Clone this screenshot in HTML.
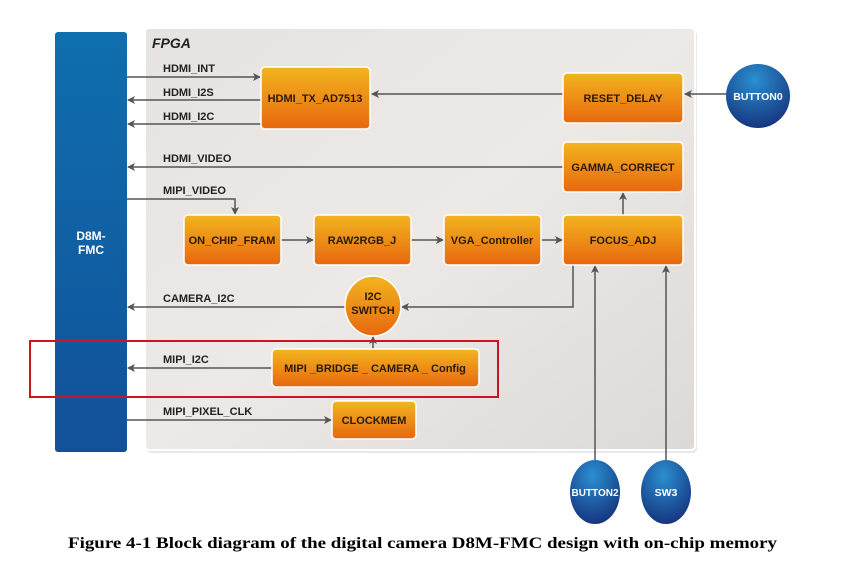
<!DOCTYPE html>
<html><head><style>body{margin:0;background:#fff}svg{display:block}</style></head><body>
<svg width="862" height="572" viewBox="0 0 862 572" xmlns="http://www.w3.org/2000/svg" font-family="Liberation Sans, sans-serif">
<defs>
<linearGradient id="bl" x1="0" y1="0" x2="0" y2="1"><stop offset="0" stop-color="#0f6fae"/><stop offset="1" stop-color="#11519a"/></linearGradient>
<linearGradient id="or" x1="0" y1="0" x2="0" y2="1"><stop offset="0" stop-color="#f2b51f"/><stop offset="1" stop-color="#e8670f"/></linearGradient>
<linearGradient id="pn" x1="0" y1="0" x2="1" y2="1"><stop offset="0" stop-color="#e6e3e0"/><stop offset="0.5" stop-color="#ece9e7"/><stop offset="1" stop-color="#dcd9d6"/></linearGradient>
<radialGradient id="bc" cx="0.45" cy="0.25" r="0.8"><stop offset="0" stop-color="#2a8fd0"/><stop offset="1" stop-color="#15307a"/></radialGradient>
<marker id="a" markerWidth="8" markerHeight="8" refX="7" refY="4" orient="auto" markerUnits="userSpaceOnUse"><path d="M0,0 L8,4 L0,8 L2,4z" fill="#555"/></marker>
</defs>
<rect x="147" y="31" width="550" height="422" rx="4" fill="#d8d8d8" opacity="0.6"/>
<rect x="145" y="28" width="550" height="422" rx="4" fill="url(#pn)" stroke="#fff" stroke-width="2"/>
<text x="152" y="48" font-size="14" font-weight="bold" font-style="italic" fill="#222">FPGA</text>
<rect x="55" y="32" width="72" height="420" rx="3" fill="url(#bl)"/>
<text x="91" y="240" font-size="12" font-weight="bold" fill="#fff" text-anchor="middle">D8M-</text>
<text x="91" y="254" font-size="12" font-weight="bold" fill="#fff" text-anchor="middle">FMC</text>
<g stroke="#555" stroke-width="1.5" fill="none" marker-end="url(#a)">
<path d="M127 77H260"/><path d="M261 100H128"/><path d="M261 124H128"/>
<path d="M563 167H128"/><path d="M127 199H235V214"/>
<path d="M563 94H372"/><path d="M726 94H685"/>
<path d="M281 240H313"/><path d="M411 240H443"/><path d="M541 240H562"/>
<path d="M623 215V193"/><path d="M573 265V307H402"/>
<path d="M345 307H128"/><path d="M373 349V337"/><path d="M272 368H128"/>
<path d="M127 420H331"/><path d="M595 460V266"/><path d="M666 460V266"/>
</g>
<g font-size="11" font-weight="bold" fill="#222">
<text x="163" y="72">HDMI_INT</text><text x="163" y="96">HDMI_I2S</text><text x="163" y="120">HDMI_I2C</text>
<text x="163" y="162">HDMI_VIDEO</text><text x="163" y="194">MIPI_VIDEO</text><text x="163" y="302">CAMERA_I2C</text>
<text x="163" y="363">MIPI_I2C</text><text x="163" y="415">MIPI_PIXEL_CLK</text>
</g>
<g stroke="#fff" stroke-width="1.5" fill="url(#or)">
<rect x="261" y="67" width="109" height="62" rx="4"/><rect x="563" y="73" width="120" height="50" rx="4"/>
<rect x="563" y="142" width="120" height="50" rx="4"/><rect x="184" y="215" width="97" height="50" rx="4"/>
<rect x="314" y="215" width="97" height="50" rx="4"/><rect x="444" y="215" width="97" height="50" rx="4"/>
<rect x="563" y="215" width="120" height="50" rx="4"/><rect x="272" y="349" width="207" height="38" rx="4"/>
<rect x="332" y="401" width="84" height="38" rx="4"/><ellipse cx="373" cy="306" rx="28" ry="30"/>
</g>
<g font-size="11" font-weight="bold" fill="#2a1a0a" text-anchor="middle">
<text x="315" y="102">HDMI_TX_AD7513</text><text x="623" y="102">RESET_DELAY</text>
<text x="623" y="171">GAMMA_CORRECT</text><text x="232" y="244">ON_CHIP_FRAM</text>
<text x="362" y="244">RAW2RGB_J</text><text x="492" y="244">VGA_Controller</text>
<text x="623" y="244">FOCUS_ADJ</text><text x="375" y="372">MIPI _BRIDGE _ CAMERA _ Config</text>
<text x="374" y="424">CLOCKMEM</text><text x="373" y="300">I2C</text><text x="373" y="314">SWITCH</text>
</g>
<rect x="30" y="341" width="468" height="56" fill="none" stroke="#c8181e" stroke-width="2"/>
<circle cx="758" cy="96" r="32" fill="url(#bc)"/>
<ellipse cx="595" cy="492" rx="25" ry="32" fill="url(#bc)"/>
<ellipse cx="666" cy="492" rx="25" ry="32" fill="url(#bc)"/>
<g font-size="10.5" font-weight="bold" fill="#fff" text-anchor="middle">
<text x="758" y="100">BUTTON0</text><text x="595" y="496" font-size="10">BUTTON2</text><text x="666" y="496">SW3</text>
</g>
<text x="68" y="548" font-family="Liberation Serif, serif" font-size="16" font-weight="bold" fill="#000" textLength="709" lengthAdjust="spacingAndGlyphs">Figure 4-1 Block diagram of the digital camera D8M-FMC design with on-chip memory</text>
</svg>
</body></html>
